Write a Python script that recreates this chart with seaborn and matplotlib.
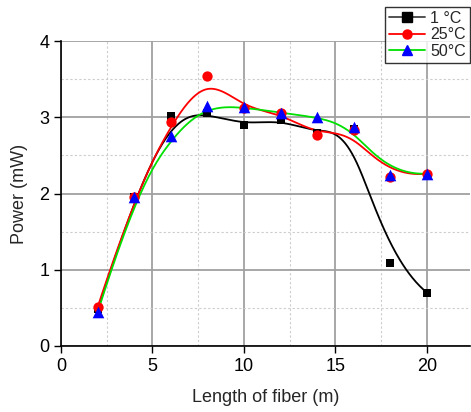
import numpy as np
import pandas as pd
import matplotlib
matplotlib.use("Agg")
import matplotlib.pyplot as plt
import seaborn as sns
from matplotlib.lines import Line2D
from matplotlib.ticker import MultipleLocator

# ---- data ----
length_m = [2, 4, 6, 8, 10, 12, 14, 16, 18, 20]
power_1C = [0.48, 1.95, 3.02, 3.05, 2.90, 2.97, 2.79, 2.85, 1.09, 0.70]
power_25C = [0.51, 1.96, 2.94, 3.54, 3.12, 3.05, 2.77, 2.83, 2.21, 2.26]
power_50C = [0.44, 1.96, 2.76, 3.15, 3.13, 3.06, 3.00, 2.87, 2.24, 2.26]
series_labels = ["1 \u00b0C", "25\u00b0C", "50\u00b0C"]


def bspline(x, y, n=400, k=3):
    P = np.column_stack([x, y]).astype(float)
    m = len(P)
    knots = np.concatenate([[0.0] * k, np.linspace(0, 1, m - k + 1), [1.0] * k])
    t = np.linspace(0, 1, n)
    t[-1] -= 1e-9
    B = np.zeros((n, len(knots) - 1))
    for i in range(len(knots) - 1):
        B[:, i] = ((t >= knots[i]) & (t < knots[i + 1])).astype(float)
    for d in range(1, k + 1):
        Bn = np.zeros((n, len(knots) - 1 - d))
        for i in range(len(knots) - 1 - d):
            a = knots[i + d] - knots[i]
            b = knots[i + d + 1] - knots[i + 1]
            term = 0
            if a > 0:
                term = term + (t - knots[i]) / a * B[:, i]
            if b > 0:
                term = term + (knots[i + d + 1] - t) / b * B[:, i + 1]
            Bn[:, i] = term
        B = Bn
    C = B @ P
    return C[:, 0], C[:, 1]


fig = plt.figure(figsize=(4.71, 4.12), dpi=100)
sns.set_style("ticks")
plt.rcParams["font.family"] = ["Liberation Sans", "DejaVu Sans"]
ax = fig.add_axes([61 / 471, 66 / 412, 409 / 471, 305 / 412])

colors_line = ["black", "red", "#00e000"]
colors_mark = ["black", "red", "blue"]
markers = ["s", "o", "^"]
msizes = [38, 55, 70]
handles = []
for vals, lab, cl, cm, mk in zip([power_1C, power_25C, power_50C], series_labels,
                                 colors_line, colors_mark, markers):
    sx, sy = bspline(length_m, vals)
    sns.lineplot(x=sx, y=sy, ax=ax, color=cl, lw=1.3, sort=False, estimator=None, zorder=3)
    handles.append(Line2D([0], [0], color=cl if cl != "black" else "#444444", lw=1.3,
                          marker=mk, markerfacecolor=cm, markeredgecolor=cm, markersize=6.5))
for vals, cm, mk, ms in zip([power_1C, power_25C, power_50C], colors_mark, markers, msizes):
    sns.scatterplot(x=length_m, y=vals, ax=ax, color=cm, marker=mk, s=ms, edgecolor=cm,
                    linewidth=0, zorder=4)

ax.set_xlim(0, 22.35)
ax.set_ylim(0, 4)
ax.xaxis.set_major_locator(MultipleLocator(5))
ax.xaxis.set_minor_locator(MultipleLocator(2.5))
ax.yaxis.set_major_locator(MultipleLocator(1))
ax.yaxis.set_minor_locator(MultipleLocator(0.5))
ax.grid(which="major", color="#a0a0a0", lw=1.3, ls="-", zorder=0)
ax.grid(which="minor", color="#cccccc", lw=0.8, ls=(0, (2, 2)), zorder=0)
ax.tick_params(which="major", direction="out", length=5, width=1, labelsize=13, colors="black")
ax.tick_params(which="minor", length=0)
for s in ["top", "right"]:
    ax.spines[s].set_visible(False)
for s in ["left", "bottom"]:
    ax.spines[s].set_color("black")
    ax.spines[s].set_linewidth(1.2)
ax.set_xlabel("Length of fiber (m)", fontsize=13, labelpad=10)
ax.set_ylabel("Power (mW)", fontsize=13, labelpad=8)

leg = ax.legend(handles, series_labels, loc="upper right", bbox_to_anchor=(1.0, 1.112),
                fontsize=11.5, frameon=True, fancybox=False, edgecolor="black",
                handlelength=2.3, handletextpad=0.3, borderpad=0.25, labelspacing=0.1,
                borderaxespad=0.0)
leg.get_frame().set_linewidth(1.0)
leg.set_zorder(10)

fig.savefig("out.png", dpi=100)
